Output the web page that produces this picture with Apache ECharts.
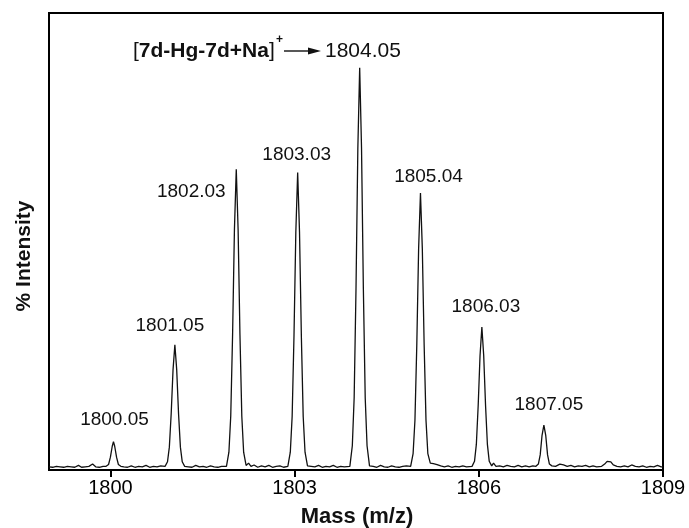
<!DOCTYPE html>
<html>
<head>
<meta charset="utf-8">
<script src="https://cdn.jsdelivr.net/npm/echarts@6/dist/echarts.min.js"></script>
<style>
html,body{margin:0;padding:0;background:#fff;}
#chart{width:689px;height:528px;}
</style>
</head>
<body>
<div id="chart"></div>
<script>
// x tick values (m/z)
var xTicks = [1800, 1803, 1806, 1809];

// spectrum trace: [m/z, % intensity]
var spectrum = [
  [1799.00,0.7],[1799.06,0.6],[1799.12,0.8],[1799.18,0.7],[1799.24,0.6],[1799.30,0.8],[1799.36,0.7],[1799.42,0.6],
  [1799.48,1.0],[1799.53,0.6],[1799.59,0.7],[1799.65,0.8],[1799.71,1.3],[1799.76,0.7],[1799.82,0.6],[1799.88,0.8],
  [1799.93,0.8],[1799.97,1.2],[1800.00,2.8],[1800.03,5.2],[1800.05,6.2],[1800.07,5.2],[1800.10,2.8],[1800.13,1.2],[1800.17,0.8],
  [1800.22,0.7],[1800.28,0.6],[1800.34,0.9],[1800.40,0.6],[1800.46,0.8],[1800.52,0.7],[1800.58,1.0],[1800.64,0.6],
  [1800.70,0.8],[1800.76,0.7],[1800.82,0.9],
  [1800.89,0.8],[1800.93,1.8],[1800.96,5.0],[1800.99,12.3],[1801.02,21.9],[1801.05,27.4],[1801.08,21.9],[1801.11,12.3],
  [1801.14,5.0],[1801.17,1.8],[1801.21,0.8],
  [1801.27,0.7],[1801.33,0.6],[1801.39,1.0],[1801.45,0.7],[1801.51,0.8],[1801.57,0.6],[1801.63,0.9],[1801.69,0.7],
  [1801.75,0.6],[1801.81,0.8],
  [1801.89,0.8],[1801.93,3.9],[1801.96,11.8],[1801.99,29.6],[1802.02,52.6],[1802.05,65.8],[1802.08,52.6],[1802.11,29.6],
  [1802.14,11.8],[1802.17,3.9],[1802.21,1.0],
  [1802.25,1.5],[1802.29,0.8],[1802.34,1.1],[1802.40,0.6],[1802.46,0.9],[1802.52,0.7],[1802.58,1.0],[1802.64,0.6],
  [1802.70,0.8],[1802.76,0.9],[1802.82,0.6],
  [1802.89,0.8],[1802.93,3.9],[1802.96,11.7],[1802.99,29.3],[1803.02,52.1],[1803.05,65.1],[1803.08,52.1],[1803.11,29.3],
  [1803.14,11.7],[1803.17,3.9],[1803.21,0.9],
  [1803.27,0.8],[1803.33,0.7],[1803.39,1.0],[1803.45,0.6],[1803.51,0.8],[1803.57,0.7],[1803.63,1.0],[1803.69,0.6],
  [1803.75,0.8],[1803.81,0.7],
  [1803.90,0.8],[1803.94,5.3],[1803.97,15.8],[1804.00,39.6],[1804.03,70.4],[1804.06,88.0],[1804.09,70.4],[1804.12,39.6],
  [1804.15,15.8],[1804.18,5.3],[1804.22,0.9],
  [1804.28,0.8],[1804.34,0.6],[1804.40,1.0],[1804.46,0.7],[1804.52,0.6],[1804.58,0.9],[1804.64,0.7],[1804.70,0.6],
  [1804.76,0.8],[1804.82,0.9],
  [1804.89,0.8],[1804.93,3.6],[1804.96,10.9],[1804.99,27.3],[1805.02,48.5],[1805.05,60.6],[1805.08,48.5],[1805.11,27.3],
  [1805.14,10.9],[1805.17,3.6],[1805.21,1.5],
  [1805.26,1.4],[1805.32,1.2],[1805.38,0.9],[1805.44,0.7],[1805.50,0.9],[1805.56,0.6],[1805.62,0.8],[1805.68,0.7],
  [1805.74,0.9],[1805.80,0.7],
  [1805.89,0.8],[1805.93,1.9],[1805.96,5.6],[1805.99,14.1],[1806.02,25.0],[1806.05,31.3],[1806.08,25.0],[1806.11,14.1],
  [1806.14,5.6],[1806.17,1.9],[1806.21,0.9],
  [1806.24,1.5],[1806.28,0.8],[1806.34,0.9],[1806.40,0.7],[1806.46,1.0],[1806.52,0.8],[1806.58,0.7],[1806.64,1.0],
  [1806.70,0.7],[1806.76,0.9],[1806.82,0.7],[1806.88,0.9],
  [1806.93,0.8],[1806.97,1.3],[1807.00,3.3],[1807.03,7.6],[1807.06,9.8],[1807.09,7.6],[1807.12,3.3],[1807.15,1.3],[1807.19,0.9],
  [1807.25,0.8],[1807.32,1.3],[1807.38,1.1],[1807.44,0.8],[1807.50,1.0],[1807.56,0.7],[1807.62,0.9],[1807.68,0.8],
  [1807.74,1.0],[1807.80,0.7],[1807.86,0.9],[1807.92,0.7],
  [1808.00,0.8],[1808.05,1.3],[1808.09,1.9],[1808.12,2.3],[1808.15,1.8],[1808.19,1.1],[1808.25,0.8],
  [1808.31,0.7],[1808.37,0.9],[1808.43,0.7],[1808.49,1.1],[1808.55,0.8],[1808.61,0.7],[1808.67,0.9],[1808.73,0.6],
  [1808.79,0.8],[1808.85,0.7],[1808.91,1.0],[1808.97,0.7],[1809.00,0.7]
];

// peak labels: text and the apex (m/z, intensity) they belong to
var peakLabelText = ['1800.05','1801.05','1802.03','1803.03','1805.04','1806.03','1807.05'];
var peakApexMz    = [1800.05, 1801.05, 1802.05, 1803.05, 1805.05, 1806.05, 1807.06];
var peakApexInt   = [6.2, 27.4, 65.8, 65.1, 60.6, 31.3, 9.8];

// annotation for the base peak
var annoSpecies = '7d-Hg-7d+Na';
var annoPeak = '1804.05';

// label placement (style): pixel offset of each label centre from its apex
var labelOffsets = [[1,-22],[-5,-19],[-45,22],[-1,-18],[8,-16],[4,-20],[5,-20]];

var FONT = '"Liberation Sans", Arial, sans-serif';

var labelData = peakLabelText.map(function (t, i) {
  return {
    value: [peakApexMz[i], peakApexInt[i]],
    label: { formatter: t, offset: labelOffsets[i] }
  };
});

var chart = echarts.init(document.getElementById('chart'), null, {renderer: 'canvas'});
chart.setOption({
  animation: false,
  backgroundColor: '#fff',
  grid: { left: 49, right: 26, top: 13, bottom: 58, show: true, borderColor: '#000', borderWidth: 2 },
  xAxis: {
    type: 'value', min: 1799, max: 1809,
    axisLine: { show: true, lineStyle: { color: '#000', width: 2 } },
    axisTick: { show: true, customValues: xTicks, length: 7, inside: false, lineStyle: { color: '#000', width: 2 } },
    axisLabel: { show: true, customValues: xTicks, color: '#000', fontSize: 20, fontFamily: FONT, margin: 8,
      formatter: function (v) { return String(v); } },
    splitLine: { show: false }
  },
  yAxis: {
    type: 'value', min: 0, max: 100,
    axisLine: { show: true, lineStyle: { color: '#000', width: 2 } },
    axisTick: { show: false }, axisLabel: { show: false }, splitLine: { show: false }
  },
  series: [
    {
      type: 'line', data: spectrum, showSymbol: false, symbol: 'none',
      lineStyle: { color: '#111', width: 1.3 }, silent: true
    },
    {
      type: 'scatter', data: labelData, symbolSize: 0, silent: true,
      itemStyle: { opacity: 1, color: '#111' },
      label: { show: true, position: 'inside', color: '#111', opacity: 1, fontSize: 19, fontFamily: FONT,
        textBorderWidth: 0 }
    }
  ],
  graphic: [
    {
      type: 'text', x: 133, y: 51,
      style: {
        text: '{r|[}{b|' + annoSpecies + '}{r|]}',
        verticalAlign: 'middle', align: 'left', fill: '#111',
        rich: {
          r: { fontSize: 21, fontFamily: FONT, fontWeight: 'normal', fill: '#111' },
          b: { fontSize: 21, fontFamily: FONT, fontWeight: 'bold', fill: '#111' }
        }
      }
    },
    { type: 'text', x: 276, y: 40,
      style: { text: '+', fontSize: 12, fontFamily: FONT, fontWeight: 'bold', fill: '#111', verticalAlign: 'middle' } },
    { type: 'line', shape: { x1: 284, y1: 51, x2: 311, y2: 51 }, style: { stroke: '#111', lineWidth: 1.4 } },
    { type: 'polygon', shape: { points: [[308, 47.5], [321, 51], [308, 54.5]] }, style: { fill: '#111' } },
    { type: 'text', x: 325, y: 51,
      style: { text: annoPeak, fontSize: 21, fontFamily: FONT, fill: '#111', verticalAlign: 'middle', align: 'left' } },
    { type: 'text', x: 357, y: 517,
      style: { text: 'Mass (m/z)', fontSize: 22, fontWeight: 'bold', fontFamily: FONT, fill: '#111',
        align: 'center', verticalAlign: 'middle' } },
    { type: 'text', x: 24, y: 256, rotation: Math.PI / 2,
      style: { text: '% Intensity', fontSize: 21, fontWeight: 'bold', fontFamily: FONT, fill: '#111',
        align: 'center', verticalAlign: 'middle' } }
  ]
});
</script>
</body>
</html>
